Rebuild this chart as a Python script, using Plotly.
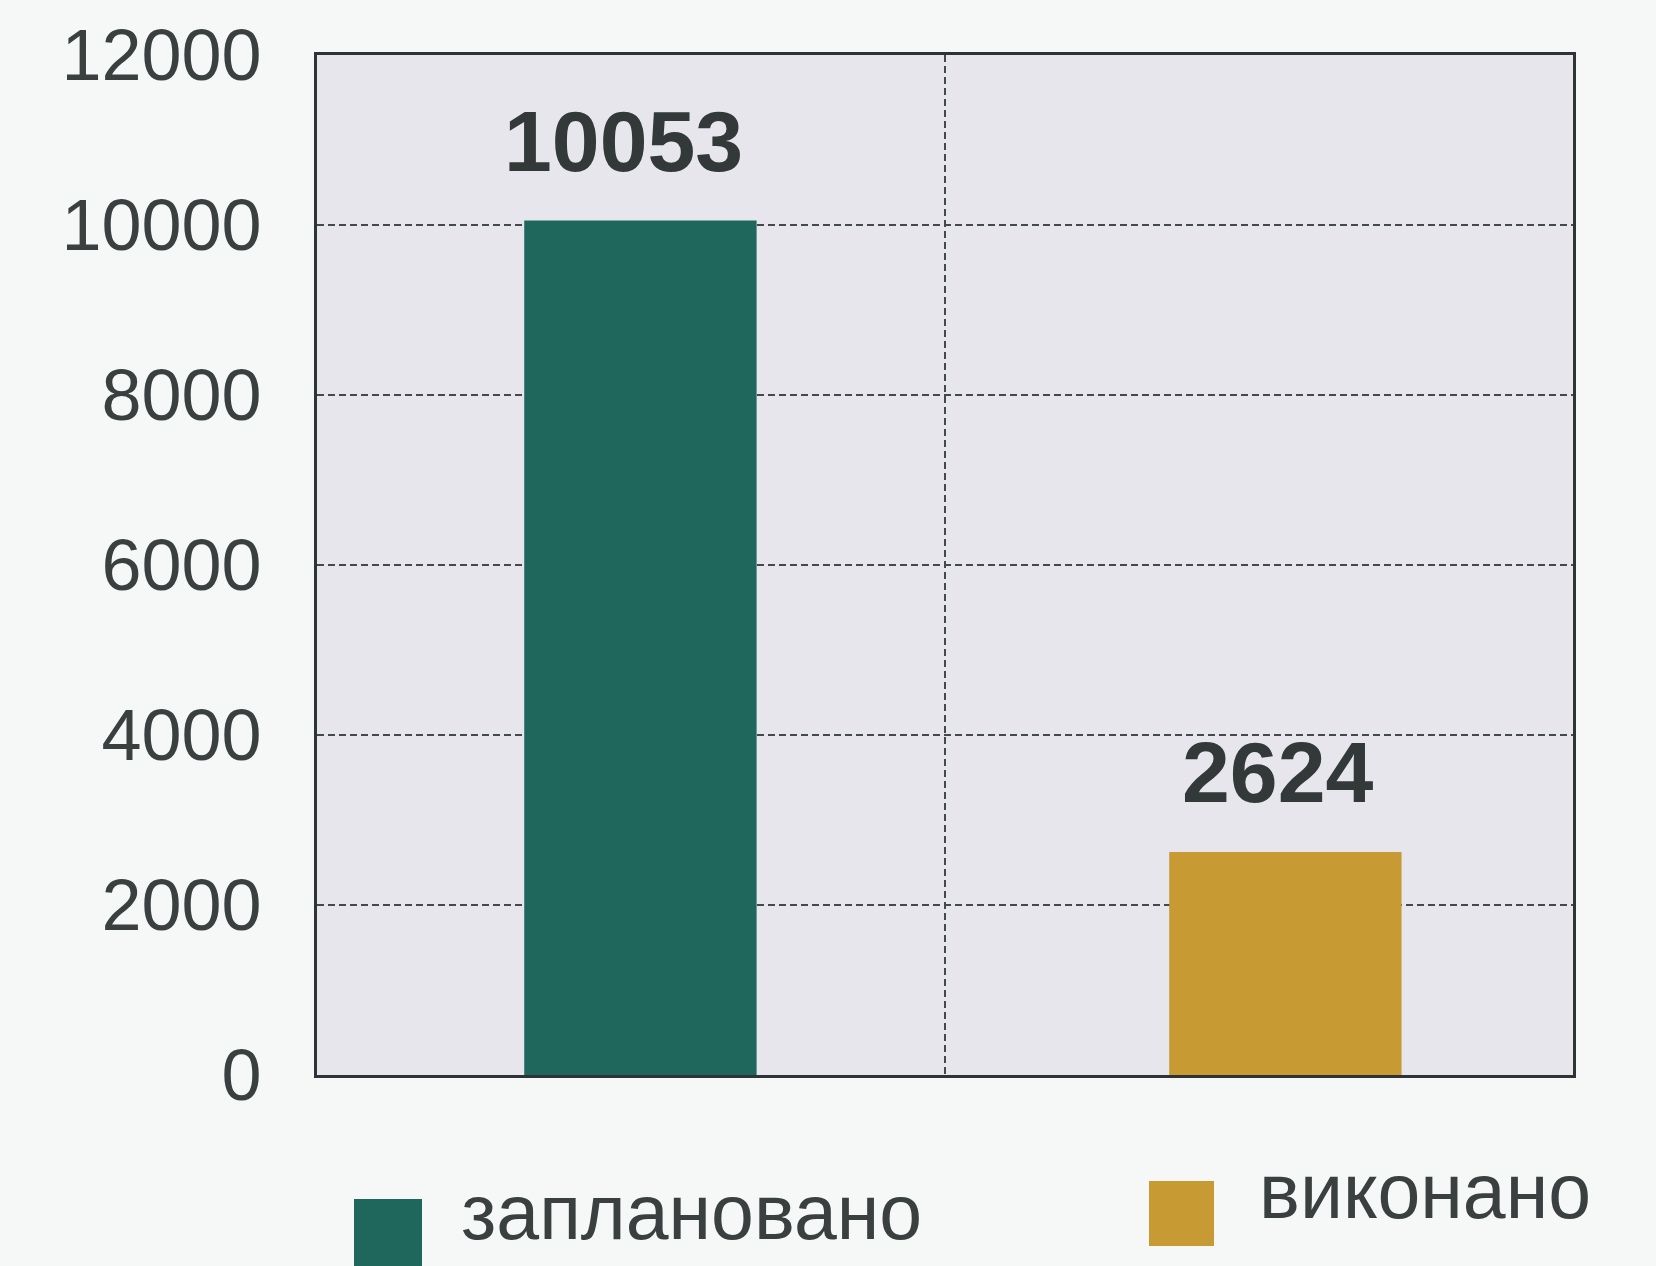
import plotly.graph_objects as go

# Planned vs completed totals
series_names = ["заплановано", "виконано"]
values = [10053, 2624]
bar_colors = ["#1f665c", "#c89a34"]

y_ticks = [0, 2000, 4000, 6000, 8000, 10000, 12000]

W, H = 1656, 1266
L, R, T, B = 317, 83, 55, 191
plot_w = W - L - R
plot_h = H - T - B

FONT = "Liberation Sans, Arial, sans-serif"
BAR_W = 0.37
BAR_OFFSET = [-0.17, -0.143]
LABEL_NUDGE = [-0.027, -0.012]


def px_x(px):
    return (px - L) / plot_w


def px_y(py):
    return (H - B - py) / plot_h


positions = list(range(len(series_names)))

fig = go.Figure()
fig.add_trace(go.Bar(
    x=positions,
    y=values,
    marker=dict(color=bar_colors, line=dict(width=0)),
    width=BAR_W,
    offset=BAR_OFFSET,
    showlegend=False,
    hoverinfo="skip",
))

# value labels above the bars
for pos, v, off, nudge in zip(positions, values, BAR_OFFSET, LABEL_NUDGE):
    fig.add_annotation(
        x=pos + off + BAR_W / 2 + nudge,
        y=v, text=f"<b>{v}</b>", showarrow=False,
        yanchor="bottom", yshift=30,
        font=dict(family=FONT, size=86, color="#333838"),
    )

# hand-built legend with large swatches
legend_pos = [
    dict(sq=(354, 1199, 422, 1280), tx=459, ty=1212),
    dict(sq=(1149, 1181, 1214, 1246), tx=1257, ty=1191),
]
for name, col, lp in zip(series_names, bar_colors, legend_pos):
    x0, y0, x1, y1 = lp["sq"]
    fig.add_shape(
        type="rect", xref="paper", yref="paper",
        x0=px_x(x0), x1=px_x(x1), y0=px_y(y1), y1=px_y(y0),
        fillcolor=col, line=dict(width=0),
    )
    fig.add_annotation(
        xref="paper", yref="paper", x=px_x(lp["tx"]), y=px_y(lp["ty"]),
        xanchor="left", yanchor="middle", text=name, showarrow=False,
        font=dict(family=FONT, size=77, color="#3a3f40"),
    )

fig.update_layout(
    width=W, height=H,
    margin=dict(l=L, r=R, t=T, b=B, pad=0),
    paper_bgcolor="#f6f7f7",
    plot_bgcolor="#e6e6ec",
)
fig.update_xaxes(
    type="linear", range=[-0.5, 1.5],
    tickvals=[0.5], showticklabels=False, ticks="",
    showgrid=True, gridcolor="#44494c", gridwidth=2, griddash="7px,4px",
    showline=True, linecolor="#2e3335", linewidth=3, mirror=True,
    zeroline=False,
)
fig.update_yaxes(
    range=[0, 12000], tickvals=y_ticks, ticktext=[str(t) for t in y_ticks],
    showgrid=True, gridcolor="#44494c", gridwidth=2, griddash="7px,4px",
    showline=True, linecolor="#2e3335", linewidth=3, mirror=True,
    zeroline=False,
    ticks="outside", ticklen=38, tickcolor="rgba(0,0,0,0)",
    tickfont=dict(family=FONT, size=72, color="#3a3f40"),
)

fig.write_html("out.html")
